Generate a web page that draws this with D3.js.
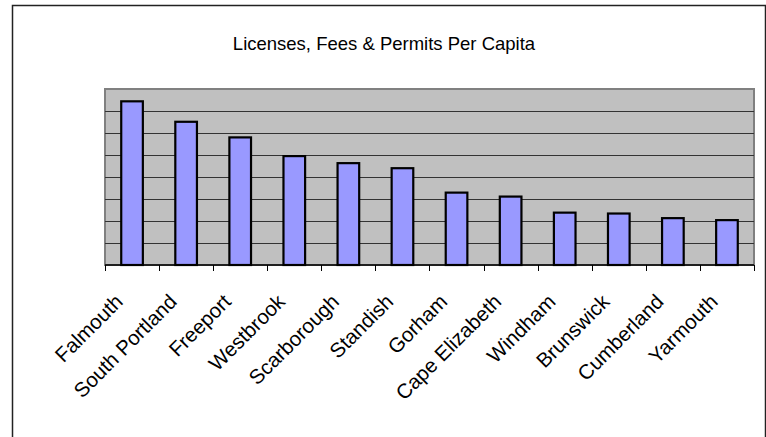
<!DOCTYPE html>
<html>
<head>
<meta charset="utf-8">
<script src="https://cdn.jsdelivr.net/npm/d3@7"></script>
<style>
  html, body { margin: 0; padding: 0; background: #fff; }
  svg { display: block; }
  text { font-family: "Liberation Sans", Arial, sans-serif; fill: #000; }
</style>
</head>
<body>
<script>
const title = "Licenses, Fees & Permits Per Capita";
const categories = ["Falmouth", "South Portland", "Freeport", "Westbrook", "Scarborough", "Standish",
  "Gorham", "Cape Elizabeth", "Windham", "Brunswick", "Cumberland", "Yarmouth"];
const values = [7.44, 6.51, 5.80, 4.95, 4.63, 4.40, 3.29, 3.11, 2.38, 2.34, 2.13, 2.04];
const yMax = 8;
const gridTicks = [1, 2, 3, 4, 5, 6, 7];

const W = 766, H = 437;
const plot = { left: 105, right: 754, top: 89, bottom: 265 };

const svg = d3.select("body").append("svg").attr("width", W).attr("height", H);

// chart border
svg.append("rect").attr("x", 12.5).attr("y", 5.5).attr("width", 753).attr("height", 440)
  .attr("fill", "#fff").attr("stroke", "#222").attr("stroke-width", 1.5);

// title
svg.append("text").attr("x", 384).attr("y", 50).attr("text-anchor", "middle")
  .style("font-size", "18.5px").text(title);

const x = d3.scaleBand().domain(categories).range([plot.left, plot.right])
  .paddingInner(0.6).paddingOuter(0.3);
const y = d3.scaleLinear().domain([0, yMax]).range([plot.bottom, plot.top]);

// plot area
svg.append("rect").attr("x", plot.left).attr("y", plot.top)
  .attr("width", plot.right - plot.left).attr("height", plot.bottom - plot.top)
  .attr("fill", "#c0c0c0").attr("stroke", "#808080").attr("stroke-width", 2);

// gridlines
svg.append("g").selectAll("line").data(gridTicks).join("line")
  .attr("x1", plot.left).attr("x2", plot.right)
  .attr("y1", d => Math.round(y(d)) + 0.5).attr("y2", d => Math.round(y(d)) + 0.5)
  .attr("stroke", "#333").attr("stroke-width", 1.2);

// bars
svg.append("g").selectAll("rect").data(values).join("rect")
  .attr("x", (d, i) => x(categories[i]))
  .attr("y", d => y(d))
  .attr("width", x.bandwidth())
  .attr("height", d => y(0) - y(d))
  .attr("fill", "#9999ff").attr("stroke", "#000").attr("stroke-width", 2.2);

// x axis line and ticks at category boundaries
const step = x.step();
const boundaries = categories.map(c => x(c) + x.bandwidth() / 2 - step / 2)
  .concat([x(categories[categories.length - 1]) + x.bandwidth() / 2 + step / 2]);
svg.append("line").attr("x1", plot.left).attr("x2", plot.right)
  .attr("y1", plot.bottom).attr("y2", plot.bottom).attr("stroke", "#000").attr("stroke-width", 1.5);
svg.append("g").selectAll("line").data(boundaries).join("line")
  .attr("x1", d => Math.round(d) + 0.5).attr("x2", d => Math.round(d) + 0.5)
  .attr("y1", plot.bottom).attr("y2", plot.bottom + 6)
  .attr("stroke", "#000").attr("stroke-width", 1);

// category labels
svg.append("g").selectAll("text").data(categories).join("text")
  .attr("text-anchor", "end")
  .attr("transform", d => `translate(${x(d) + x.bandwidth() / 2 - 8},${plot.bottom + 38}) rotate(-45)`)
  .style("font-size", "20.5px")
  .text(d => d);
</script>
</body>
</html>
